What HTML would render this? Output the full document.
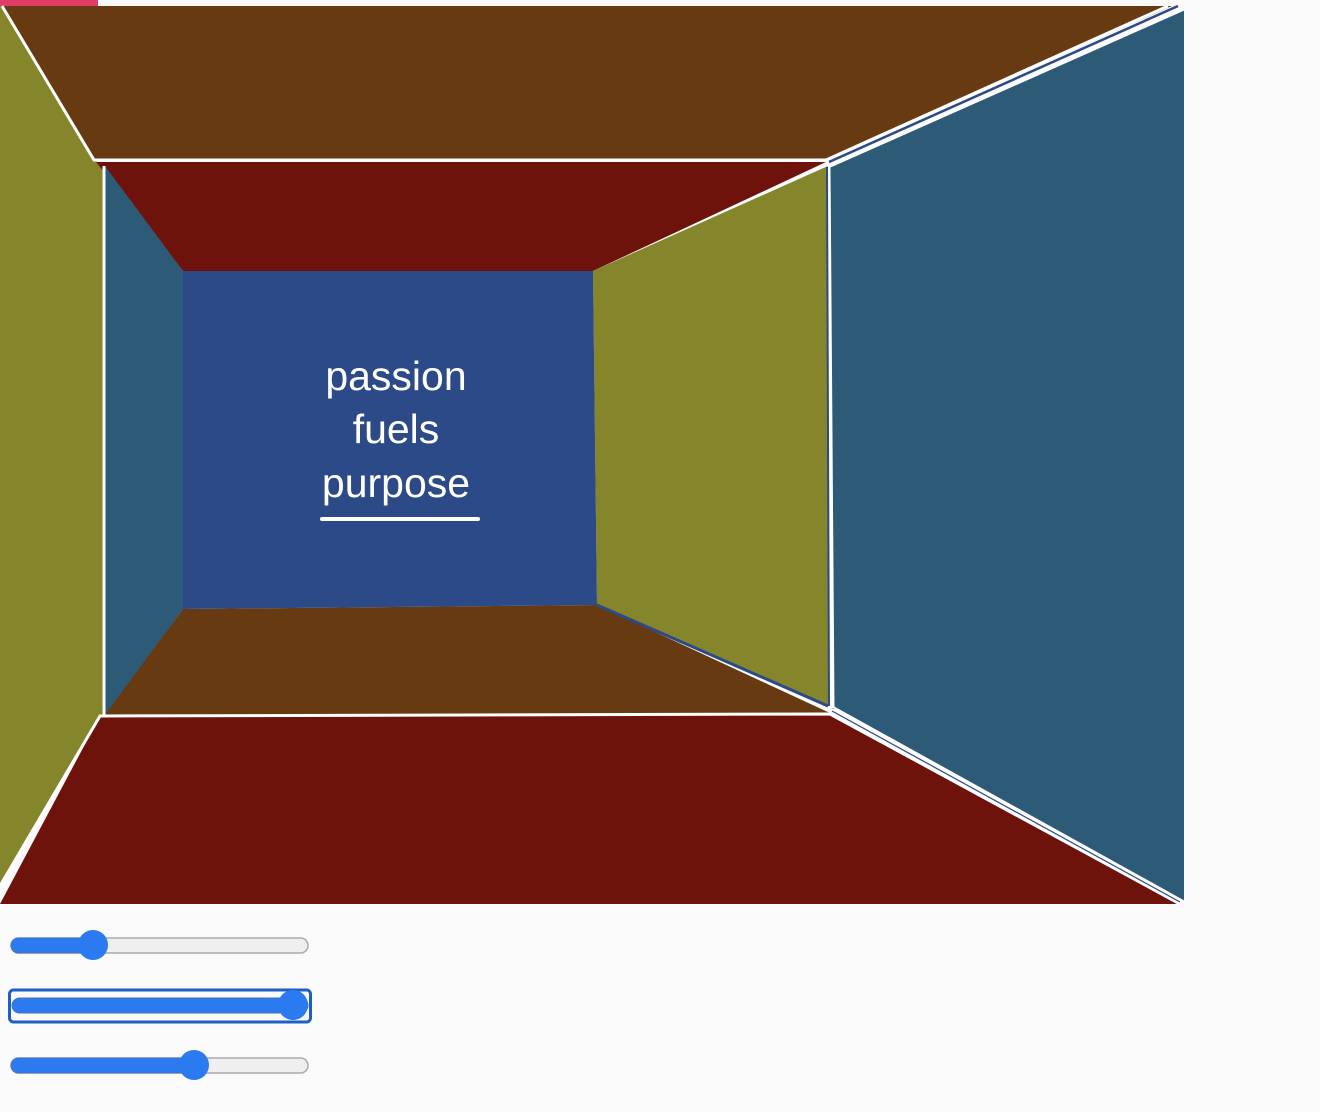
<!DOCTYPE html>
<html><head><style>
html,body{margin:0;padding:0;background:#fafafa;width:1320px;height:1112px;overflow:hidden;font-family:"Liberation Sans",sans-serif}
</style></head><body>
<svg width="1320" height="1112" style="position:absolute;left:0;top:0">
<rect x="0" y="0" width="98" height="6" fill="#e03c64"/>
<polygon points="0,6 1172,6 828,160 94,160" fill="#673a12"/>
<polygon points="0,6 94,160 104,166 104,716 100,716 0,886" fill="#85852b"/>
<polygon points="1184,8 828,166 832,708 1184,902" fill="#2c5a77"/>
<polygon points="100,716 830,713 1180,904 0,904" fill="#6e130c"/>
<polygon points="96,162 826,162 593,271 183,271" fill="#6e130c"/>
<polygon points="105,166 183,271 183,609 105,716" fill="#2c5a77"/>
<polygon points="593,271 828,166 828,706 597,605" fill="#85852b"/>
<polygon points="183,609 597,605 830,713 104,716" fill="#673a12"/>
<polygon points="183,271 593,271 597,605 183,609" fill="#2c4a88"/>
<line x1="597" y1="605" x2="828" y2="706" stroke="#2c4a88" stroke-width="3"/>
<g stroke="#fff" stroke-width="3" fill="none">
<polyline points="2,6 94,160 826,160 1168,6"/>
<polyline points="828,167 1184,9"/>
<line x1="104" y1="166" x2="104" y2="716"/>
<line x1="829" y1="167" x2="833" y2="708"/>
<polyline points="0,886 100,716 830,714 1180,904"/>
<line x1="834" y1="708" x2="1184" y2="902"/>
</g>
<line x1="829" y1="162" x2="1178" y2="6" stroke="#2c4a88" stroke-width="2.5"/>
<line x1="832" y1="711" x2="1180" y2="902" stroke="#2c4a88" stroke-width="1.2"/>
<line x1="827" y1="167" x2="829" y2="706" stroke="#2c4a88" stroke-width="2"/>
<g fill="#fff" font-family="Liberation Sans, sans-serif" font-size="41" text-anchor="middle">
<text x="396" y="390">passion</text>
<text x="396" y="443">fuels</text>
<text x="396" y="497">purpose</text>
</g>
<rect x="320" y="517" width="160" height="4" rx="2" fill="#fff"/>
<g>
<rect x="11" y="938" width="297" height="15" rx="7.5" fill="#efefef" stroke="#aaa" stroke-width="1.5"/>
<rect x="11" y="938" width="82" height="15" rx="7.5" fill="#2b7af0" stroke="#4a72b0" stroke-width="1"/>
<circle cx="93" cy="945" r="15" fill="#2b7af0"/>
<rect x="9.5" y="990" width="301" height="32" rx="4" fill="none" stroke="#1f5fc4" stroke-width="3"/>
<rect x="12" y="998" width="296" height="15" rx="7.5" fill="#2b7af0" stroke="#4a72b0" stroke-width="1"/>
<circle cx="293" cy="1005" r="15" fill="#2b7af0"/>
<rect x="11" y="1058" width="297" height="15" rx="7.5" fill="#efefef" stroke="#aaa" stroke-width="1.5"/>
<rect x="11" y="1058" width="183" height="15" rx="7.5" fill="#2b7af0" stroke="#4a72b0" stroke-width="1"/>
<circle cx="194" cy="1065" r="15" fill="#2b7af0"/>
</g>
</svg>
</body></html>
